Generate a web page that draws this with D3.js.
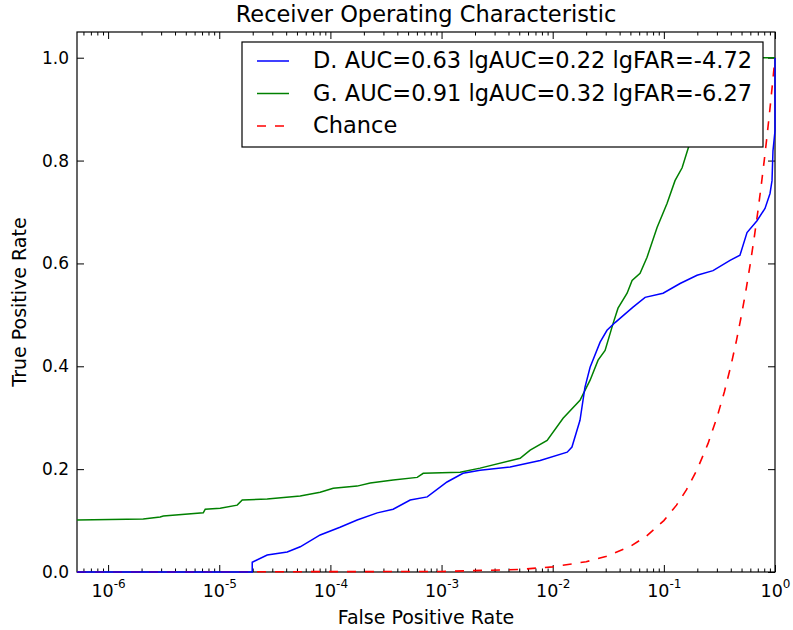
<!DOCTYPE html>
<html lang="en">
  <head>
    <meta charset="utf-8">
    <title>ROC</title>
    <style media="screen">
      body { margin: 0; background: #fff; }
      svg text { font-family: "DejaVu Sans", sans-serif; fill: #000; }
    </style>
  </head>
  <body>
    <div id="graph-div"></div>

    <script src="https://d3js.org/d3.v7.min.js"></script>
    <script type="text/javascript">

    // values
    var dFpr = [5.25e-7, 1.98e-5, 1.98e-5, 2.70e-5, 4.09e-5, 5.35e-5, 8.09e-5, 1.22e-4, 1.74e-4, 2.64e-4,
                3.67e-4, 5.22e-4, 7.43e-4, 1.12e-3, 1.56e-3, 2.22e-3, 4.14e-3, 7.71e-3, 1.35e-2, 1.49e-2,
                1.76e-2, 1.95e-2, 2.17e-2, 2.67e-2, 3.08e-2, 3.64e-2, 5.28e-2, 6.78e-2, 9.84e-2, 0.140,
                0.199, 0.277, 0.394, 0.484, 0.560, 0.689, 0.813, 0.902, 0.940, 0.959, 1.0, 1.0];
    var dTpr = [0, 0, 0.019, 0.033, 0.039, 0.049, 0.072, 0.087, 0.101, 0.115,
                0.122, 0.140, 0.146, 0.175, 0.192, 0.198, 0.204, 0.217, 0.233, 0.243,
                0.295, 0.359, 0.398, 0.447, 0.470, 0.485, 0.515, 0.534, 0.542, 0.561,
                0.577, 0.586, 0.606, 0.616, 0.660, 0.683, 0.707, 0.736, 0.761, 0.819, 0.858, 1.0];

    var gFpr = [5.25e-7, 2.07e-6, 2.94e-6, 3.14e-6, 7.18e-6, 7.48e-6, 1.02e-5, 1.45e-5, 1.61e-5, 2.70e-5,
                5.35e-5, 8.09e-5, 1.06e-4, 1.74e-4, 2.28e-4, 3.67e-4, 6.04e-4, 6.84e-4, 1.47e-3, 2.22e-3,
                5.09e-3, 6.27e-3, 8.91e-3, 1.24e-2, 1.76e-2, 2.17e-2, 2.56e-2, 2.96e-2, 3.49e-2, 3.87e-2,
                4.67e-2, 5.18e-2, 6.11e-2, 7.06e-2, 8.69e-2, 0.107, 0.126, 0.146, 0.165, 0.212,
                0.288, 0.394, 1.0];
    var gTpr = [0.101, 0.103, 0.107, 0.109, 0.115, 0.122, 0.124, 0.130, 0.140, 0.142,
                0.148, 0.155, 0.163, 0.167, 0.173, 0.179, 0.184, 0.192, 0.194, 0.202,
                0.221, 0.237, 0.256, 0.299, 0.334, 0.373, 0.412, 0.431, 0.483, 0.513,
                0.542, 0.567, 0.581, 0.612, 0.670, 0.717, 0.761, 0.786, 0.823, 0.897,
                0.955, 1.0, 1.0];

    // chance diagonal: tpr equals fpr
    var chanceRate = [5.25e-7, 1e-3, 0.005, 0.01, 0.02, 0.03, 0.05, 0.07, 0.1, 0.13, 0.16, 0.2,
                      0.25, 0.3, 0.35, 0.4, 0.45, 0.5, 0.55, 0.6, 0.65, 0.7, 0.75, 0.8, 0.85,
                      0.9, 0.95, 1.0];

    var seriesNames = ["D. AUC=0.63 lgAUC=0.22 lgFAR=-4.72",
                       "G. AUC=0.91 lgAUC=0.32 lgFAR=-6.27",
                       "Chance"];
    var xMajor = [1e-6, 1e-5, 1e-4, 1e-3, 1e-2, 1e-1, 1];
    var xExp = ["-6", "-5", "-4", "-3", "-2", "-1", "0"];
    var yTicks = [0, 0.2, 0.4, 0.6, 0.8, 1.0];
    var xDomain = [5.25e-7, 1];
    var yDomain = [0, 1.05];

    var W = 793, H = 630;
    var margin = {top: 32, right: 18, bottom: 58, left: 77},
        width = W - margin.left - margin.right,
        height = H - margin.top - margin.bottom;

    var svg = d3.select("#graph-div")
      .append("svg")
        .attr("width", W)
        .attr("height", H);

    var g = svg.append("g")
        .attr("transform", "translate(" + margin.left + "," + margin.top + ")");

    var x = d3.scaleLog().domain(xDomain).range([0, width]);
    var y = d3.scaleLinear().domain(yDomain).range([height, 0]);

    // clip a hair outside the frame so lines lying on an edge stay visible
    g.append("clipPath").attr("id", "clip")
      .append("rect").attr("x", -1).attr("y", -1)
        .attr("width", width + 2).attr("height", height + 2);

    var line = d3.line()
        .x(function(d) { return x(d[0]); })
        .y(function(d) { return y(d[1]); });

    // minor ticks on the log axis
    var xMinor = [];
    for (var e = -7; e < 0; e++) {
      for (var m = 2; m <= 9; m++) {
        var v = m * Math.pow(10, e);
        if (v >= xDomain[0] && v <= xDomain[1]) xMinor.push(v);
      }
    }

    function styleAxis(sel) {
      sel.select(".domain").remove();
      sel.selectAll(".tick line").attr("stroke", "#000").attr("stroke-width", 1);
    }

    g.append("g")
        .attr("transform", "translate(0," + height + ")")
        .call(d3.axisBottom(x).tickValues(xMinor).tickSizeInner(-3.5).tickSizeOuter(0).tickFormat(""))
        .call(styleAxis);
    g.append("g")
        .call(d3.axisTop(x).tickValues(xMinor).tickSizeInner(-3.5).tickSizeOuter(0).tickFormat(""))
        .call(styleAxis);
    g.append("g")
        .call(d3.axisTop(x).tickValues(xMajor).tickSizeInner(-7).tickSizeOuter(0).tickFormat(""))
        .call(styleAxis);

    var xAxis = g.append("g")
        .attr("transform", "translate(0," + height + ")")
        .call(d3.axisBottom(x).tickValues(xMajor).tickSizeInner(-7).tickSizeOuter(0).tickPadding(13))
        .call(styleAxis);
    xAxis.selectAll(".tick text")
        .attr("font-size", 17.5)
        .attr("font-family", "DejaVu Sans")
        .attr("dy", "0.71em")
        .each(function(d, i) {
          var t = d3.select(this).text("");
          t.append("tspan").text("10");
          t.append("tspan").attr("font-size", 12).attr("dy", "-0.8em").text(xExp[i]);
        });

    g.append("g")
        .call(d3.axisLeft(y).tickValues(yTicks).tickSizeInner(-7).tickSizeOuter(0).tickPadding(8)
              .tickFormat(d3.format(".1f")))
        .call(styleAxis)
        .selectAll(".tick text")
          .attr("font-size", 17)
          .attr("font-family", "DejaVu Sans");
    g.append("g")
        .attr("transform", "translate(" + width + ",0)")
        .call(d3.axisRight(y).tickValues(yTicks).tickSizeInner(-7).tickSizeOuter(0).tickFormat(""))
        .call(styleAxis);

    // frame
    g.append("rect")
        .attr("width", width)
        .attr("height", height)
        .attr("fill", "none")
        .attr("stroke", "#000")
        .attr("stroke-width", 1.2);

    var plot = g.append("g").attr("clip-path", "url(#clip)");

    plot.append("path")
        .datum(chanceRate.map(function(r) { return [r, r]; }))
        .attr("d", line)
        .attr("fill", "none")
        .attr("stroke", "#ff0000")
        .attr("stroke-width", 1.6)
        .attr("stroke-dasharray", "9,9");

    plot.append("path")
        .datum(gFpr.map(function(v, i) { return [v, gTpr[i]]; }))
        .attr("d", line)
        .attr("fill", "none")
        .attr("stroke", "#008000")
        .attr("stroke-width", 1.5);

    plot.append("path")
        .datum(dFpr.map(function(v, i) { return [v, dTpr[i]]; }))
        .attr("d", line)
        .attr("fill", "none")
        .attr("stroke", "#0000ff")
        .attr("stroke-width", 1.5);

    // title and labels
    svg.append("text")
        .attr("x", margin.left + width / 2)
        .attr("y", 22)
        .attr("text-anchor", "middle")
        .attr("font-size", 22.5)
        .text("Receiver Operating Characteristic");

    svg.append("text")
        .attr("x", margin.left + width / 2)
        .attr("y", 624)
        .attr("text-anchor", "middle")
        .attr("font-size", 19)
        .text("False Positive Rate");

    svg.append("text")
        .attr("transform", "translate(26," + (margin.top + height / 2) + ") rotate(-90)")
        .attr("text-anchor", "middle")
        .attr("font-size", 19)
        .text("True Positive Rate");

    // legend
    var legend = svg.append("g").attr("transform", "translate(242,42)");
    legend.append("rect")
        .attr("width", 521)
        .attr("height", 105)
        .attr("fill", "#fff")
        .attr("stroke", "#000")
        .attr("stroke-width", 1.2);

    var legColors = ["#0000ff", "#008000", "#ff0000"];
    var legDash = [null, null, "9,9"];
    seriesNames.forEach(function(name, i) {
      var cy = 19 + i * 32.5;
      legend.append("line")
          .attr("x1", 15).attr("x2", 47)
          .attr("y1", cy).attr("y2", cy)
          .attr("stroke", legColors[i])
          .attr("stroke-width", i == 2 ? 1.6 : 1.5)
          .attr("stroke-dasharray", legDash[i]);
      legend.append("text")
          .attr("x", 71)
          .attr("y", cy + 7)
          .attr("font-size", 22.5)
          .text(name);
    });

    </script>
  </body>
</html>
